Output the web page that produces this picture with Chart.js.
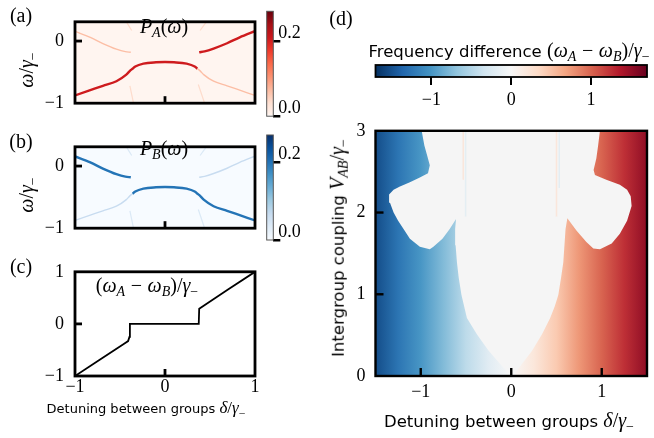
<!DOCTYPE html>
<html>
<head>
<meta charset="utf-8">
<script src="https://cdn.jsdelivr.net/npm/chart.js@4.4.1/dist/chart.umd.min.js"></script>
<style>
  body { margin: 0; background: #fff; }
  #fig { position: relative; width: 654px; height: 438px; overflow: hidden; background: #fff; }
  canvas { position: absolute; }
  .t { position: absolute; white-space: nowrap; color: #000; transform: translate(-50%, -50%); line-height: 1; }
  .rot { transform: translate(-50%, -50%) rotate(-90deg); }
  .sans { font-family: "DejaVu Sans", sans-serif; font-size: 13px; }
  .big { font-size: 16.5px; }
  .m { font-family: "Liberation Serif", serif; font-size: 20px; }
  .sans .m { font-size: 17px; }
  .big .m { font-size: 20px; }
  .sub { font-size: 70%; position: relative; top: 0.3em; }
  .op { margin: 0 0.28em; }
  .tag { font-family: "Liberation Serif", serif; font-size: 20px; }
</style>
</head>
<body>
<div id="fig">
  <canvas id="pa" width="262" height="125" style="left:0;top:0"></canvas>
  <canvas id="ca" width="42" height="125" style="left:262px;top:0"></canvas>
  <canvas id="pb" width="262" height="125" style="left:0;top:125px"></canvas>
  <canvas id="cb" width="42" height="125" style="left:262px;top:125px"></canvas>
  <canvas id="pc" width="262" height="188" style="left:0;top:250px"></canvas>
  <canvas id="cd" width="354" height="80" style="left:300px;top:30px"></canvas>
  <canvas id="pd" width="354" height="328" style="left:300px;top:110px"></canvas>

  <div class="t tag" style="left:21px;top:15px">(a)</div>
  <div class="t tag" style="left:21px;top:141px">(b)</div>
  <div class="t tag" style="left:21px;top:266px">(c)</div>
  <div class="t tag" style="left:341px;top:18px">(d)</div>

  <div class="t rot m" style="left:26px;top:70px"><i>ω</i>/<i>γ</i><span class="sub">−</span></div>
  <div class="t rot m" style="left:26px;top:195px"><i>ω</i>/<i>γ</i><span class="sub">−</span></div>
  <div class="t m" style="left:164px;top:26px"><i>P</i><span class="sub"><i>A</i></span>(<i>ω</i>)</div>
  <div class="t m" style="left:164px;top:148px"><i>P</i><span class="sub"><i>B</i></span>(<i>ω</i>)</div>
  <div class="t m" style="left:147px;top:285px">(<i>ω</i><span class="sub"><i>A</i></span><span class="op">−</span><i>ω</i><span class="sub"><i>B</i></span>)/<i>γ</i><span class="sub">−</span></div>
  <div class="t sans" style="left:146px;top:407px">Detuning between groups <span class="m"><i>δ</i>/<i>γ</i><span class="sub">−</span></span></div>
  <div class="t sans big" style="left:509px;top:420px">Detuning between groups <span class="m"><i>δ</i>/<i>γ</i><span class="sub">−</span></span></div>
  <div class="t rot sans big" style="left:337px;top:248px">Intergroup coupling <span class="m"><i>V</i><span class="sub"><i>AB</i></span>/<i>γ</i><span class="sub">−</span></span></div>
  <div class="t sans big" style="left:509px;top:50px">Frequency difference <span class="m">(<i>ω</i><span class="sub"><i>A</i></span><span class="op">−</span><i>ω</i><span class="sub"><i>B</i></span>)/<i>γ</i><span class="sub">−</span></span></div>
</div>

<script>
// ---- data ----
// spectral branches in (a)/(b): detuning x, frequency omega
const lowX = [-1, -0.83, -0.69, -0.54, -0.43, -0.39, -0.36, -0.33, -0.24, -0.1, 0, 0.1, 0.24, 0.33, 0.36, 0.39, 0.43, 0.54, 0.69, 0.83, 1];
const lowW = [-0.875, -0.79, -0.72, -0.646, -0.54, -0.48, -0.445, -0.41, -0.364, -0.342, -0.338, -0.342, -0.364, -0.41, -0.445, -0.48, -0.54, -0.646, -0.72, -0.79, -0.875];
const upLeftX = [-1, -0.83, -0.69, -0.54, -0.44, -0.38];
const upLeftW = [0.156, 0.06, -0.04, -0.13, -0.17, -0.18];
const upRightX = [0.38, 0.44, 0.54, 0.69, 0.83, 1];
const upRightW = [-0.18, -0.165, -0.12, -0.035, 0.06, 0.16];
// faint short branches near the top and bottom edges
const stubX = [[-0.43, -0.37], [0.39, 0.46], [-0.39, -0.35], [0.37, 0.44]];
const stubW = [[0.31, 0.17], [0.17, 0.31], [-0.72, -1.0], [-0.70, -1.0]];
const pMaxA = 0.28;
const pMaxB = 0.27;
const pTicks = [0, 0.2];

// (c) frequency difference vs detuning
const diffX = [-1, -0.7, -0.45, -0.41, -0.395, -0.39, 0.375, 0.38, 0.43, 0.7, 1];
const diffY = [-1, -0.66, -0.375, -0.33, -0.25, 0, 0, 0.29, 0.35, 0.66, 1];

// (d) background frequency difference across detuning
const bgDelta = [-1.5, -1.25, -1.0, -0.75, -0.5, -0.25, 0, 0.25, 0.5, 0.75, 1.0, 1.25, 1.5];
const bgValue = [-1.52, -1.25, -1.0, -0.75, -0.45, -0.2, 0, 0.2, 0.45, 0.75, 1.0, 1.25, 1.52];
// (d) boundary of the synchronised (zero difference) region, traced as a closed outline
const syncDelta = [0, -0.125, -0.25, -0.38, -0.49, -0.55, -0.58, -0.60, -0.615, -0.62, -0.61,
  -0.68, -0.76, -0.86, -0.90, -1.01, -1.12, -1.19, -1.25, -1.30, -1.34, -1.35, -1.30, -1.23, -1.12, -1.01, -0.92, -0.90, -0.93, -0.96, -0.99,
  0.98, 0.96, 0.94, 0.91, 0.925, 1.05, 1.20, 1.28, 1.32, 1.33, 1.28, 1.20, 1.11, 0.98, 0.907, 0.83, 0.72, 0.62,
  0.60, 0.575, 0.55, 0.52, 0.48, 0.43, 0.34, 0.23, 0.12, 0.02];
const syncV = [0, 0.15, 0.31, 0.51, 0.71, 0.99, 1.2, 1.39, 1.6, 1.8, 1.92,
  1.80, 1.68, 1.58, 1.55, 1.58, 1.68, 1.80, 1.90, 2.0, 2.12, 2.22, 2.28, 2.32, 2.37, 2.43, 2.48, 2.58, 2.70, 2.82, 3.0,
  3.0, 2.82, 2.66, 2.52, 2.46, 2.40, 2.34, 2.28, 2.20, 2.08, 1.90, 1.74, 1.62, 1.55, 1.56, 1.64, 1.78, 1.93,
  1.8, 1.39, 1.2, 0.99, 0.85, 0.71, 0.51, 0.31, 0.15, 0];
// faint streaks inside the synchronised region
const streakDelta = [-0.53, -0.505, 0.5, 0.53];
const streakV0 = [2.4, 1.95, 1.95, 2.3];
const streakVal = [0.35, -0.3, 0.35, -0.3];
const diffRange = 1.7;
const diffTicks = [-1, 0, 1];

// ---- colour maps ----
const RDBU = ['#053061', '#2166ac', '#4393c3', '#92c5de', '#d1e5f0', '#f7f7f7', '#fddbc7', '#f4a582', '#d6604d', '#b2182b', '#67001f'];
const REDS = ['#fff5f0', '#fee0d2', '#fcbba1', '#fc9272', '#fb6a4a', '#ef3b2c', '#cb181d', '#a50f15', '#67000d'];
const BLUES = ['#f7fbff', '#deebf7', '#c6dbef', '#9ecae1', '#6baed6', '#4292c6', '#2171b5', '#08519c', '#08306b'];

function hex(h) { return [1, 3, 5].map(i => parseInt(h.slice(i, i + 2), 16)); }
function cmap(list, t, alpha) {
  t = Math.max(0, Math.min(1, t));
  const f = t * (list.length - 1);
  const i = Math.min(Math.floor(f), list.length - 2);
  const u = f - i;
  const a = hex(list[i]), b = hex(list[i + 1]);
  const c = a.map((v, k) => Math.round(v + (b[k] - v) * u));
  return alpha == null ? `rgb(${c})` : `rgba(${c},${alpha})`;
}
const rdbu = (v, a) => cmap(RDBU, (v + diffRange) / (2 * diffRange), a);
const zip = (xs, ys) => xs.map((x, i) => ({ x, y: ys[i] }));
const fmt = v => String(v).replace('-', '\u2212');
const serif = { family: 'Liberation Serif', size: 18 };

// frame + inward ticks, the way the original axes look
const framePlugin = {
  id: 'frame',
  beforeDatasetsDraw(chart, args, o) {
    if (!o.bg) return;
    const a = chart.chartArea;
    chart.ctx.save();
    chart.ctx.fillStyle = o.bg;
    chart.ctx.fillRect(a.left, a.top, a.right - a.left, a.bottom - a.top);
    chart.ctx.restore();
  },
  afterDraw(chart, args, o) {
    const { ctx, chartArea: a, scales } = chart;
    ctx.save();
    ctx.strokeStyle = o.color || '#000';
    ctx.lineWidth = o.width || 2.5;
    const len = o.len || 7;
    (o.xTicks || []).forEach(v => {
      const p = scales.x.getPixelForValue(v);
      ctx.beginPath(); ctx.moveTo(p, a.bottom); ctx.lineTo(p, a.bottom - len); ctx.stroke();
    });
    (o.yTicks || []).forEach(v => {
      const p = scales.y.getPixelForValue(v);
      ctx.beginPath(); ctx.moveTo(a.left, p); ctx.lineTo(a.left + len, p); ctx.stroke();
    });
    ctx.strokeRect(a.left, a.top, a.right - a.left, a.bottom - a.top);
    ctx.restore();
  }
};

function setTicks(vals) { return s => { s.ticks = vals.map(v => ({ value: v })); }; }

function axisY(min, max, width, ticks, pad) {
  return {
    type: 'linear', min, max,
    afterFit: s => { s.width = width; },
    afterBuildTicks: setTicks(ticks),
    grid: { display: false, drawTicks: false },
    border: { display: false },
    ticks: { padding: pad, color: '#000', font: serif, callback: fmt }
  };
}
function axisX(min, max, height, ticks, pad) {
  return {
    type: 'linear', min, max,
    afterFit: s => { s.height = height; },
    afterBuildTicks: setTicks(ticks),
    grid: { display: false, drawTicks: false },
    border: { display: false },
    ticks: { padding: pad, color: '#000', font: serif, callback: fmt, maxRotation: 0 }
  };
}
const base = { responsive: false, animation: false, events: [] };
const noLegend = { legend: { display: false }, tooltip: { enabled: false } };

// ---- (a) and (b) spectra ----
function spectrum(id, cols, strongLeft, pMax) {
  const strong = cmap(cols, 0.74), faint = cmap(cols, 0.24);
  const lowSeg = c => {
    const x = c.p1.parsed.x;
    return (strongLeft ? x <= 0.36 : c.p0.parsed.x >= -0.36) ? strong : faint;
  };
  const line = (data, color, w) => ({
    data, borderColor: color, borderWidth: w, pointRadius: 0, cubicInterpolationMode: 'monotone', fill: false
  });
  const datasets = stubX.map((xs, i) => line(zip(xs, stubW[i]), cmap(cols, 0.14), 1.2));
  datasets.push(line(zip(upLeftX, upLeftW), strongLeft ? faint : strong, strongLeft ? 1.4 : 2.4));
  datasets.push(line(zip(upRightX, upRightW), strongLeft ? strong : faint, strongLeft ? 2.4 : 1.4));
  const low = line(zip(lowX, lowW), strong, 2.4);
  low.segment = { borderColor: lowSeg, borderWidth: c => lowSeg(c) === strong ? 2.4 : 1.4 };
  datasets.push(low);
  return new Chart(document.getElementById(id), {
    type: 'line',
    data: { datasets },
    options: {
      ...base,
      layout: { padding: { left: 0, top: id === 'pa' ? 11.3 : 10, right: 7, bottom: id === 'pa' ? 8.7 : 10 } },
      plugins: { ...noLegend, frame: { xTicks: [0], yTicks: [0], len: 7, width: 2.8, bg: cols[0] } },
      scales: {
        x: { type: 'linear', min: -1, max: 1, display: false },
        y: axisY(-1, 0.31, 75, [-1, 0], 11)
      }
    },
    plugins: [framePlugin]
  });
}
spectrum('pa', REDS, true, pMaxA);
spectrum('pb', BLUES, false, pMaxB);

// vertical colour bars for (a) and (b)
function vbar(id, cols, vmax, top, bottom) {
  return new Chart(document.getElementById(id), {
    type: 'bar',
    data: {
      labels: ['P'],
      datasets: [{
        data: [[0, vmax]], borderWidth: 0, barPercentage: 1, categoryPercentage: 1,
        backgroundColor: c => {
          const ch = c.chart, a = ch.chartArea;
          if (!a) return cols[0];
          const g = ch.ctx.createLinearGradient(0, a.bottom, 0, a.top);
          cols.forEach((col, i) => g.addColorStop(i / (cols.length - 1), col));
          return g;
        }
      }]
    },
    options: {
      ...base,
      layout: { padding: { left: 4.7, top, right: 0, bottom } },
      plugins: { ...noLegend, frame: { width: 1, color: '#555' } },
      scales: {
        x: { display: false },
        y: {
          type: 'linear', position: 'right', min: 0, max: vmax,
          afterFit: s => { s.width = 42 - 11.3; },
          afterBuildTicks: setTicks(pTicks),
          grid: { display: true, drawOnChartArea: false, drawTicks: true, tickLength: 7, lineWidth: 2.5, color: '#000' },
          border: { display: false },
          ticks: { padding: -2, labelOffset: -8, color: '#000', font: serif, callback: v => v.toFixed(1) }
        }
      }
    },
    plugins: [framePlugin]
  });
}
vbar('ca', REDS, pMaxA, 11.3, 8.7);
vbar('cb', BLUES, pMaxB, 10, 10);

// ---- (c) ----
new Chart(document.getElementById('pc'), {
  type: 'line',
  data: { datasets: [{ data: zip(diffX, diffY), borderColor: '#000', borderWidth: 1.8, pointRadius: 0, tension: 0, fill: false }] },
  options: {
    ...base,
    layout: { padding: { left: 0, top: 16, right: 7, bottom: 0 } },
    plugins: { ...noLegend, frame: { xTicks: [0], yTicks: [0], len: 7, width: 2.8 } },
    scales: {
      x: axisX(-1, 1, 188 - 126, [-1, 0, 1], 0),
      y: axisY(-1, 1, 75, [-1, 0, 1], 11)
    }
  },
  plugins: [framePlugin]
});

// ---- (d) colour bar ----
new Chart(document.getElementById('cd'), {
  type: 'bar',
  data: {
    labels: ['d'],
    datasets: [{
      data: [[-diffRange, diffRange]], borderWidth: 0, barPercentage: 1, categoryPercentage: 1,
      backgroundColor: c => {
        const ch = c.chart, a = ch.chartArea;
        if (!a) return RDBU[5];
        const g = ch.ctx.createLinearGradient(a.left, 0, a.right, 0);
        RDBU.forEach((col, i) => g.addColorStop(i / (RDBU.length - 1), col));
        return g;
      }
    }]
  },
  options: {
    ...base,
    indexAxis: 'y',
    layout: { padding: { left: 75.5, top: 35, right: 7, bottom: 0 } },
    plugins: { ...noLegend, frame: { width: 1.8 } },
    scales: {
      y: { display: false },
      x: {
        type: 'linear', min: -diffRange, max: diffRange,
        afterFit: s => { s.height = 80 - 47; },
        afterBuildTicks: setTicks(diffTicks),
        grid: { display: true, drawOnChartArea: false, drawTicks: true, tickLength: 8, lineWidth: 2, color: '#000' },
        border: { display: false },
        ticks: { padding: 4, color: '#000', font: serif, callback: fmt, maxRotation: 0 }
      }
    }
  },
  plugins: [framePlugin]
});

// ---- (d) map ----
const streaks = streakDelta.map((d, i) => ({
  data: [{ x: d, y: streakV0[i] }, { x: d, y: 3 }],
  borderColor: rdbu(streakVal[i], 0.55), borderWidth: 1.5, pointRadius: 0, fill: false, order: 1
}));
new Chart(document.getElementById('pd'), {
  type: 'line',
  data: {
    datasets: [
      ...streaks,
      {
        data: zip(syncDelta, syncV), borderWidth: 0, borderColor: 'rgba(0,0,0,0)', pointRadius: 0,
        tension: 0, fill: 'shape', backgroundColor: '#f5f5f5', order: 2
      },
      {
        data: [{ x: -1.5, y: 3 }, { x: 1.5, y: 3 }], borderWidth: 0, borderColor: 'rgba(0,0,0,0)', pointRadius: 0,
        fill: 'origin', order: 3,
        backgroundColor: c => {
          const ch = c.chart, a = ch.chartArea;
          if (!a) return rdbu(0);
          const xs = ch.scales.x;
          const x0 = xs.getPixelForValue(bgDelta[0]), x1 = xs.getPixelForValue(bgDelta[bgDelta.length - 1]);
          const g = ch.ctx.createLinearGradient(x0, 0, x1, 0);
          bgDelta.forEach((d, i) => g.addColorStop((xs.getPixelForValue(d) - x0) / (x1 - x0), rdbu(bgValue[i])));
          return g;
        }
      }
    ]
  },
  options: {
    ...base,
    layout: { padding: { left: 0, top: 15, right: 354 - 347, bottom: 0 } },
    plugins: { ...noLegend, frame: { xTicks: [-1, 0, 1], yTicks: [1, 2], len: 8, width: 2.4 } },
    scales: {
      x: axisX(-1.5, 1.5, 328 - 266, [-1, 0, 1], 5),
      y: axisY(0, 3, 75.5, [0, 1, 2, 3], 10)
    }
  },
  plugins: [framePlugin]
});
</script>
</body>
</html>
